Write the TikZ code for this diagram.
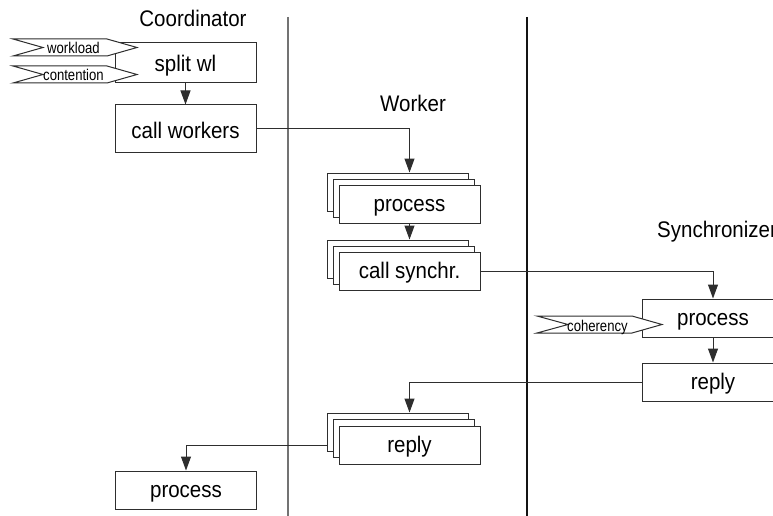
\documentclass[tikz,border=0pt]{standalone}
\usepackage{fontspec}
\setmainfont{Liberation Sans}
\usetikzlibrary{arrows.meta,calc}
\newcommand{\tallT}[1]{\scalebox{1}[1.1]{#1}}
\newcommand{\condT}[1]{\scalebox{0.84}[1]{#1}}
\begin{document}
\begin{tikzpicture}[x=1pt,y=-1pt,
  ln/.style={draw=black!82,line width=1pt},
  box/.style={ln,fill=white,rectangle,inner sep=0pt,minimum width=141pt,minimum height=38pt,
    text height=15pt,text depth=0pt,font=\fontsize{20.5}{24}\selectfont},
  lbl/.style={inner sep=0pt,font=\fontsize{20.5}{24}\selectfont},
  small/.style={inner sep=0pt,anchor=base west,font=\fontsize{15.6}{17}\selectfont},
  tag/.style={ln,fill=white,line join=miter},
  conn/.style={ln,-{Triangle[length=14pt,width=10pt]}}]
\useasboundingbox (0,0) rectangle (773,516);
\clip (0,0) rectangle (773,516);
% swimlane separators
\coordinate (s1t) at (288,17); \coordinate (s1b) at (288,516);
\coordinate (s2t) at (527,17); \coordinate (s2b) at (527,516);
\draw[draw=black!55,line width=1.1pt] (s1t) -- (s1b);
\draw[draw=black!92,line width=1.1pt] (s2t) -- (s2b);
% labels
\node[lbl] (lcoord) at (193,18) {\tallT{Coordinator}};
\node[lbl] (lwork) at (413,103) {\tallT{Worker}};
\node[lbl,anchor=west] (lsync) at (657,232) {\tallT{Synchronizer}};
% coordinator
\node[box,minimum height=40pt,text height=18pt] (split) at (185.5,63) {\tallT{split wl}};
\node[box,minimum height=47pt,text height=21pt] (callw) at (185.5,128.5) {\tallT{call workers}};
\node[box] (cproc) at (186,490) {\tallT{process}};
% inputs to split
\draw[tag] (13,39) -- (107,39) -- (137,47.5) -- (107,56) -- (13,56) -- (43,47.5) -- cycle;
\node[small] (twl) at (47,53.5) {\condT{workload}};
\draw[tag] (13,66) -- (107,66) -- (137,74.5) -- (107,83) -- (13,83) -- (43,74.5) -- cycle;
\node[small] (tct) at (43,80.5) {\condT{contention}};
% worker stacks
\node[box] (wprocB) at (397.5,192) {};
\node[box] (wprocM) at (403.5,198) {};
\node[box] (wprocF) at (409.5,204) {\tallT{process}};
\node[box] (wcallB) at (397.5,259) {};
\node[box] (wcallM) at (403.5,265) {};
\node[box] (wcallF) at (409.5,271) {\tallT{call synchr.}};
\node[box] (wrepB) at (397.5,432) {};
\node[box] (wrepM) at (403.5,438) {};
\node[box] (wrepF) at (409.5,445) {\tallT{reply}};
% synchronizer
\node[box,minimum width=142pt] (sproc) at (713,318) {\tallT{process}};
\node[box,minimum width=142pt] (srep) at (713,382) {\tallT{reply}};
\draw[tag] (537,316) -- (632,316) -- (662,324.5) -- (632,333) -- (537,333) -- (568,324.5) -- cycle;
\node[small] (tcoh) at (567,331) {\condT{coherency}};
% connectors
\draw[conn] (split.south) -- (callw.north);
\draw[conn] (callw.east) -| (wprocF.north |- wprocB.north);
\draw[conn] (wprocF.south) -- (wprocF.south |- wcallB.north);
\draw[conn] (wcallF.east) -| (sproc.north);
\draw[conn] (sproc.south) -- (srep.north);
\draw[conn] (srep.west) -| (wrepF.north |- wrepB.north);
\draw[conn] (wrepB.west |- wrepF.center) -| (cproc.north);
\end{tikzpicture}
\end{document}
